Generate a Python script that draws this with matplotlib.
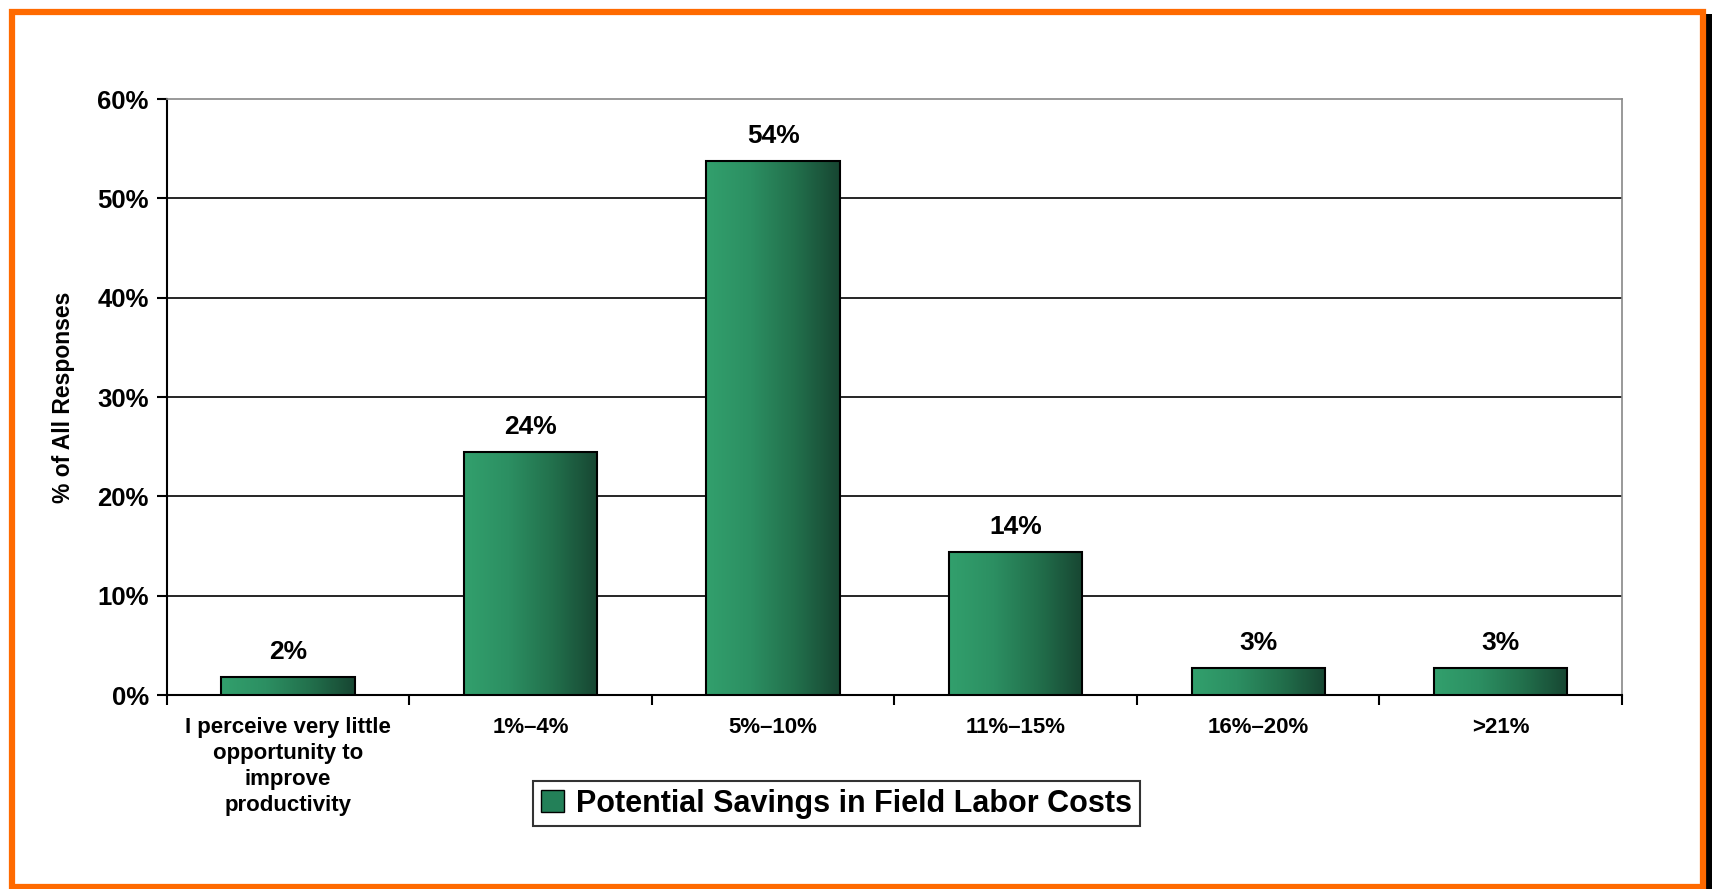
import matplotlib
matplotlib.use("Agg")
import matplotlib.pyplot as plt
import numpy as np
from matplotlib.colors import LinearSegmentedColormap
from matplotlib.patches import Rectangle

categories = ["I perceive very little\nopportunity to\nimprove\nproductivity",
              "1%\u20134%", "5%\u201310%", "11%\u201315%", "16%\u201320%", ">21%"]
values = [1.8, 24.5, 53.8, 14.4, 2.7, 2.7]
value_labels = ["2%", "24%", "54%", "14%", "3%", "3%"]
yticks = [0, 10, 20, 30, 40, 50, 60]
legend_label = "Potential Savings in Field Labor Costs"

plt.rcParams['font.family'] = ['Liberation Sans', 'DejaVu Sans']

fig = plt.figure(figsize=(17.12, 8.89), dpi=100)
ax = fig.add_axes([0.0975, 0.2182, 0.8499, 0.6704])

cmap = LinearSegmentedColormap.from_list("g", ["#32a06d", "#2c8f62", "#22704c", "#174632"])
grad = np.linspace(0, 1, 256).reshape(1, -1)
x = np.arange(len(categories))
width = 0.55
for xi, v, lab in zip(x, values, value_labels):
    im = ax.imshow(grad, cmap=cmap, aspect='auto',
                   extent=[xi - width/2, xi + width/2, 0, v], zorder=3)
    r = Rectangle((xi - width/2, 0), width, v, facecolor='none',
                  edgecolor='black', linewidth=1.5, zorder=4)
    ax.add_patch(r)
    im.set_clip_path(r)
    ax.text(xi, v + 1.3, lab, ha='center', va='bottom', fontsize=19,
            fontweight='bold', zorder=5)

ax.set_xlim(-0.5, len(categories) - 0.5)
ax.set_ylim(0, 60)
ax.set_yticks(yticks)
ax.set_yticklabels([f"{t}%" for t in yticks], fontsize=18.5, fontweight='bold')
for t in yticks[1:-1]:
    ax.axhline(t, color='black', linewidth=1.2, zorder=1)

ax.set_xticks(x)
ax.set_xticklabels(categories, fontsize=16, fontweight='bold', linespacing=1.3)
ax.tick_params(axis='x', length=0, pad=16)
ax.set_xticks(np.arange(len(categories) + 1) - 0.5, minor=True)
ax.tick_params(axis='x', which='minor', length=7, width=1.5, direction='out')
ax.tick_params(axis='y', length=7, width=1.5, direction='out', pad=6)

ax.spines['left'].set_color('black')
ax.spines['left'].set_linewidth(1.5)
ax.spines['bottom'].set_color('black')
ax.spines['bottom'].set_linewidth(1.5)
ax.spines['top'].set_color('#888888')
ax.spines['right'].set_color('#888888')
ax.spines['top'].set_linewidth(1.2)
ax.spines['right'].set_linewidth(1.2)

ax.set_ylabel("% of All Responses", fontsize=16.5, fontweight='bold', labelpad=16)

handle = Rectangle((0, 0), 1, 1, facecolor="#238058", edgecolor='black', linewidth=1)
leg = fig.legend([handle], [legend_label], loc='center',
                 bbox_to_anchor=(0.4885, 0.0958), fontsize=22,
                 frameon=True, fancybox=False, edgecolor='black',
                 handlelength=0.75, handleheight=0.75, handletextpad=0.4,
                 borderpad=0.25)
leg.get_frame().set_linewidth(1.5)
for t in leg.get_texts():
    t.set_fontweight('bold')

# orange frame and shadow
fig.patches.append(Rectangle((1706/1712, 0.0), 6/1712, 1 - 14/889, transform=fig.transFigure,
                             facecolor='black', edgecolor='none', zorder=0))
fig.patches.append(Rectangle((12/1712, 2/889), (1703 - 12)/1712, (877 - 2)/889,
                             transform=fig.transFigure, facecolor='none',
                             edgecolor='#ff6a00', linewidth=4.5, zorder=1))

fig.savefig("out.png", dpi=100)
